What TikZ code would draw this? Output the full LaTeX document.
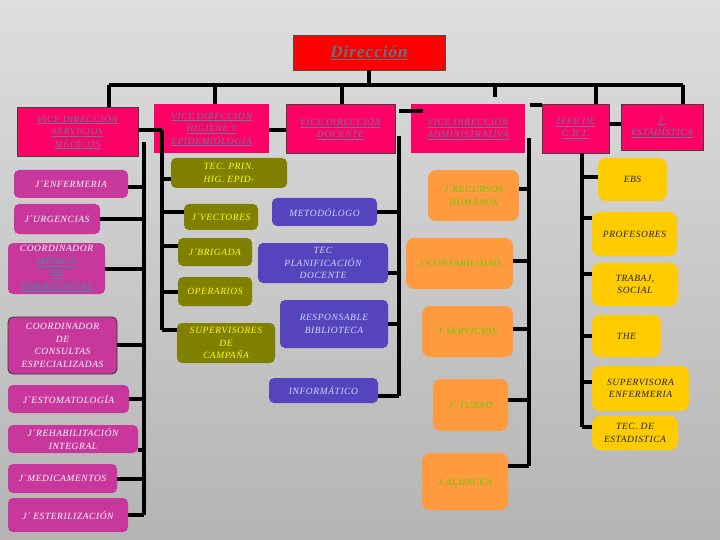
\documentclass[tikz,border=0pt]{standalone}
\usepackage{fontspec}
\setmainfont{Liberation Serif}[LetterSpace=6]
\usetikzlibrary{positioning,calc}
\definecolor{bgtop}{RGB}{222,222,222}
\definecolor{bgbot}{RGB}{180,180,180}
\definecolor{dirred}{RGB}{255,0,0}
\definecolor{dirtext}{RGB}{85,120,135}
\definecolor{vdpink}{RGB}{255,0,102}
\definecolor{vdtext}{RGB}{95,125,160}
\definecolor{magbox}{RGB}{200,55,155}
\definecolor{lnkteal}{RGB}{40,150,175}
\definecolor{olbox}{RGB}{128,128,0}
\definecolor{oltext}{RGB}{255,255,0}
\definecolor{blbox}{RGB}{85,68,190}
\definecolor{bltext}{RGB}{205,218,255}
\definecolor{orbox}{RGB}{255,155,62}
\definecolor{ortext}{RGB}{100,205,0}
\definecolor{gdbox}{RGB}{255,204,0}
\definecolor{gdtext}{RGB}{35,35,35}
\newcommand\lnk[1]{\underline{#1}}
\tikzset{
  sz/.style 2 args={minimum width=#1pt,minimum height=#2pt},
  box/.style={inner sep=1pt,align=center,font=\fontsize{9.5}{12.5}\selectfont\itshape},
  vd/.style={box,fill=vdpink,text=vdtext},
  vdb/.style={vd,draw=black!75,line width=0.8pt},
  mag/.style={box,fill=magbox,text=white,rounded corners=5pt},
  olv/.style={box,fill=olbox,text=oltext,rounded corners=5pt},
  blu/.style={box,fill=blbox,text=bltext,rounded corners=5pt},
  org/.style={box,fill=orbox,text=ortext,rounded corners=8pt},
  gld/.style={box,fill=gdbox,text=gdtext,rounded corners=8pt},
  bar/.style={line width=3.4pt,black}
}
\begin{document}
\begin{tikzpicture}[x=1pt,y=-1pt]
\useasboundingbox (0,0) rectangle (720,540);
\shade[top color=bgtop,bottom color=bgbot] (0,0) rectangle (720,540);
% top row
\node[box,fill=dirred,draw=black!70,line width=0.8pt,sz={152}{35},text=dirtext,font=\fontsize{17}{19}\selectfont\bfseries\itshape] (dir) at (369,52.5) {\lnk{Dirección}};
\node[vdb,sz={121}{49}] (vdsm) at (77.5,131.5) {\lnk{VICE DIRECCIÓN}\\\lnk{SERVICIOS}\\\lnk{MÉDICOS}};
\node[vd,sz={115}{49}] (vdh) at (211.5,128.5) {\lnk{VICE DIRECCIÓN}\\\lnk{HIGIENE Y}\\\lnk{EPIDEMIOLOGÍA}};
\node[vdb,sz={109}{49}] (vdd) at (340.5,128.5) {\lnk{VICE DIRECCIÓN}\\\lnk{DOCENTE}};
\node[vd,sz={114}{49}] (vda) at (468,128.5) {\lnk{VICE DIRECCIÓN}\\\lnk{ADMINISTRATIVA}};
\node[vdb,sz={67}{49}] (gbt) at (575.5,128.5) {\lnk{JEFE DE}\\\lnk{G.B.T.}};
\node[vdb,sz={82}{46}] (jest) at (662,127) {\lnk{J´}\\\lnk{ESTADÍSTICA}};
% servicios medicos
\node[mag,sz={114}{28}] (enf) at (71,184) {J´ENFERMERIA};
\node[mag,sz={86}{30}] (urg) at (57,219) {J´URGENCIAS};
\node[mag,sz={97}{51}] (cmed) at (56.5,268.5) {COORDINADOR\\\textcolor{lnkteal}{\lnk{MÉDICO}}\\\textcolor{lnkteal}{\lnk{DE}}\\\textcolor{lnkteal}{\lnk{EMERGENCIAS}}};
\node[mag,draw=black!80,line width=0.8pt,sz={109}{57}] (cce) at (62.5,345.5) {COORDINADOR\\DE\\CONSULTAS\\ESPECIALIZADAS};
\node[mag,sz={121}{28}] (esto) at (68.5,399) {J´ESTOMATOLOGÍA};
\node[mag,sz={130}{28}] (rehab) at (73,439) {J´REHABILITACIÓN\\INTEGRAL};
\node[mag,sz={109}{29}] (medic) at (62.5,478.5) {J´MEDICAMENTOS};
\node[mag,sz={120}{34}] (ester) at (68,515) {J´ ESTERILIZACIÓN};
% higiene
\node[olv,sz={116}{30}] (tec) at (229,173) {TEC. PRIN.\\HIG. EPID-};
\node[olv,sz={74}{26}] (vect) at (221,217) {J´VECTORES};
\node[olv,sz={74}{28}] (brig) at (215,252) {J´BRIGADA};
\node[olv,sz={74}{29}] (oper) at (215,291.5) {OPERARIOS};
\node[olv,sz={98}{40}] (supc) at (226,343) {SUPERVISORES\\DE\\CAMPAÑA};
% docente
\node[blu,sz={105}{28}] (meto) at (324.5,212) {METODÓLOGO};
\node[blu,sz={130}{40}] (tpd) at (323,263) {TEC\\PLANIFICACIÓN\\DOCENTE};
\node[blu,sz={108}{48}] (resp) at (334,324) {RESPONSABLE\\BIBLIOTECA};
\node[blu,sz={109}{25}] (info) at (323.5,390.5) {INFORMÁTICO};
% administrativa
\node[org,sz={91}{51}] (rrhh) at (473.5,195.5) {J´RECURSOS\\HUMANOS};
\node[org,sz={107}{51}] (cont) at (459.5,263.5) {J´CONTABILIDAD};
\node[org,sz={91}{51}] (serv) at (467.5,331.5) {J´SERVICIOS};
\node[org,sz={75}{52}] (turno) at (470.5,405) {J´ TURNO};
\node[org,sz={86}{57}] (alm) at (465,481.5) {J.ALMACÉN};
% gbt
\node[gld,sz={69}{43}] (ebs) at (632.5,179.5) {EBS};
\node[gld,sz={85}{44}] (prof) at (634.5,234) {PROFESORES};
\node[gld,sz={86}{43}] (trab) at (635,284.5) {TRABAJ,\\SOCIAL};
\node[gld,sz={69}{42}] (the) at (626.5,336) {THE};
\node[gld,sz={97}{45}] (supe) at (640.5,388.5) {SUPERVISORA\\ENFERMERIA};
\node[gld,sz={86}{34}] (tecest) at (635,433) {TEC. DE\\ESTADISTICA};
% connectors
\coordinate (busL) at (109,85);
\coordinate (busR) at (683,85);
\coordinate (stub) at (495,97);
\coordinate (sL) at (144,142);
\coordinate (sH) at (162,130);
\coordinate (sD) at (399,136);
\coordinate (sA) at (529,138);
\coordinate (sG) at (582,153);
\draw[bar] (dir.south) -- (dir.south |- busL);
\draw[bar] (busL) -- (busR);
\foreach \n/\x in {vdsm/109,vdh/215,vdd/342,gbt/596,jest/683}
  \draw[bar] (\x,85) -- (\n.north -| \x,0);
\draw[bar] (stub |- busL) -- (stub);
\draw[bar] (vdsm.east |- sH) -- (sH);
\draw[bar] (vdh.east |- sH) -- (vdd.west |- sH);
\draw[bar] (sD |- 0,111) -- (423,111);
\draw[bar] (530,105) -- (gbt.north west |- 0,105);
\draw[bar] (gbt.east |- 0,124) -- (jest.west |- 0,124);
\draw[bar] (sL) -- (sL |- ester.east);
\foreach \n/\y in {enf/187,urg/219,cmed/269,cce/345,esto/399,rehab/450,medic/479,ester/515}
  \draw[bar] (sL |- 0,\y) -- (\n.east |- 0,\y);
\draw[bar] (sH) -- (sH |- 0,330);
\foreach \n/\y in {tec/179,vect/212,brig/246,oper/292,supc/330}
  \draw[bar] (sH |- 0,\y) -- (\n.west |- 0,\y);
\draw[bar] (sD) -- (sD |- 0,396);
\foreach \n/\y in {meto/212,tpd/273,resp/324,info/396}
  \draw[bar] (sD |- 0,\y) -- (\n.east |- 0,\y);
\draw[bar] (sA) -- (sA |- 0,466);
\foreach \n/\y in {rrhh/189,cont/261,serv/329,turno/400,alm/466}
  \draw[bar] (sA |- 0,\y) -- (\n.east |- 0,\y);
\draw[bar] (sG) -- (sG |- 0,427);
\foreach \n/\y in {ebs/177,prof/218,trab/274,the/336,supe/382,tecest/427}
  \draw[bar] (sG |- 0,\y) -- (\n.west |- 0,\y);
\end{tikzpicture}
\end{document}
